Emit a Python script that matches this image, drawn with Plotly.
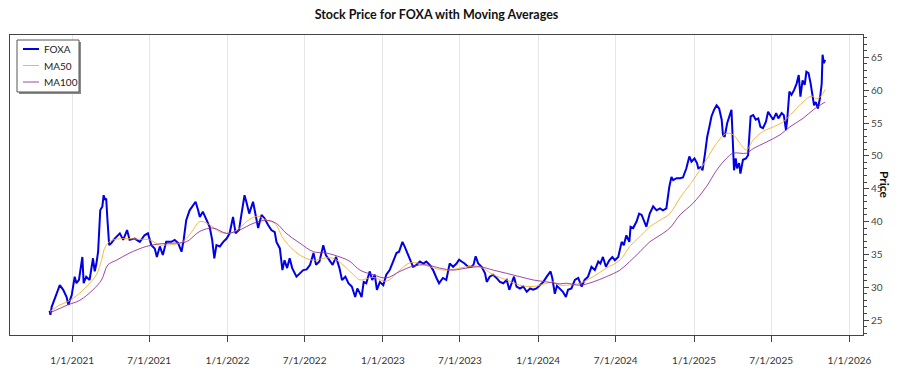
import plotly.graph_objects as go

# ---------------- data ----------------
price_dates = [
    "2020-11-09", "2020-11-11", "2020-11-14", "2020-11-22", "2020-11-29", "2020-12-03", "2020-12-11",
    "2020-12-19", "2020-12-23", "2020-12-31", "2021-01-07", "2021-01-11", "2021-01-17", "2021-01-25",
    "2021-01-28", "2021-02-03", "2021-02-11", "2021-02-19", "2021-02-23", "2021-02-27", "2021-03-03",
    "2021-03-05", "2021-03-08", "2021-03-13", "2021-03-16", "2021-03-19", "2021-03-22", "2021-03-25",
    "2021-03-29", "2021-04-03", "2021-04-11", "2021-04-23", "2021-05-01", "2021-05-10", "2021-05-16",
    "2021-05-28", "2021-06-09", "2021-06-20", "2021-06-28", "2021-07-06", "2021-07-14", "2021-07-19",
    "2021-07-26", "2021-08-02", "2021-08-10", "2021-08-22", "2021-08-30", "2021-09-07", "2021-09-15",
    "2021-09-20", "2021-09-26", "2021-10-04", "2021-10-12", "2021-10-18", "2021-10-24", "2021-10-28",
    "2021-11-04", "2021-11-12", "2021-11-20", "2021-11-26", "2021-12-01", "2021-12-06", "2021-12-14",
    "2021-12-22", "2021-12-30", "2022-01-06", "2022-01-14", "2022-01-20", "2022-01-28", "2022-02-03",
    "2022-02-10", "2022-02-15", "2022-02-21", "2022-03-02", "2022-03-08", "2022-03-14", "2022-03-22",
    "2022-03-29", "2022-04-06", "2022-04-14", "2022-04-22", "2022-04-26", "2022-05-04", "2022-05-10",
    "2022-05-15", "2022-05-21", "2022-05-27", "2022-06-02", "2022-06-12", "2022-06-20", "2022-06-28",
    "2022-07-06", "2022-07-14", "2022-07-22", "2022-07-28", "2022-08-05", "2022-08-14", "2022-08-20",
    "2022-08-28", "2022-09-05", "2022-09-13", "2022-09-21", "2022-09-27", "2022-10-05", "2022-10-12",
    "2022-10-20", "2022-10-28", "2022-11-02", "2022-11-08", "2022-11-12", "2022-11-17", "2022-11-23",
    "2022-12-01", "2022-12-07", "2022-12-13", "2022-12-18", "2022-12-25", "2023-01-02", "2023-01-09",
    "2023-01-17", "2023-01-25", "2023-02-02", "2023-02-08", "2023-02-16", "2023-02-21", "2023-03-01",
    "2023-03-07", "2023-03-13", "2023-03-21", "2023-03-29", "2023-04-06", "2023-04-13", "2023-04-21",
    "2023-04-29", "2023-05-07", "2023-05-13", "2023-05-22", "2023-05-30", "2023-06-07", "2023-06-15",
    "2023-06-23", "2023-06-29", "2023-07-05", "2023-07-12", "2023-07-20", "2023-07-28", "2023-08-02",
    "2023-08-07", "2023-08-13", "2023-08-21", "2023-08-29", "2023-09-02", "2023-09-09", "2023-09-17",
    "2023-09-25", "2023-10-03", "2023-10-11", "2023-10-19", "2023-10-25", "2023-10-31", "2023-11-05",
    "2023-11-11", "2023-11-19", "2023-11-27", "2023-12-05", "2023-12-13", "2023-12-20", "2023-12-28",
    "2024-01-05", "2024-01-13", "2024-01-21", "2024-01-30", "2024-02-03", "2024-02-09", "2024-02-14",
    "2024-02-21", "2024-02-28", "2024-03-06", "2024-03-11", "2024-03-19", "2024-03-27", "2024-04-04",
    "2024-04-12", "2024-04-19", "2024-04-27", "2024-05-05", "2024-05-13", "2024-05-21", "2024-05-26",
    "2024-06-01", "2024-06-08", "2024-06-16", "2024-06-23", "2024-06-29", "2024-07-07", "2024-07-15",
    "2024-07-20", "2024-07-26", "2024-08-02", "2024-08-05", "2024-08-11", "2024-08-19", "2024-08-25",
    "2024-08-31", "2024-09-05", "2024-09-11", "2024-09-19", "2024-09-27", "2024-10-05", "2024-10-13",
    "2024-10-20", "2024-10-28", "2024-11-04", "2024-11-09", "2024-11-13", "2024-11-21", "2024-11-29",
    "2024-12-06", "2024-12-14", "2024-12-21", "2024-12-26", "2025-01-02", "2025-01-08", "2025-01-11",
    "2025-01-17", "2025-01-21", "2025-01-27", "2025-02-01", "2025-02-06", "2025-02-11", "2025-02-17",
    "2025-02-23", "2025-03-01", "2025-03-07", "2025-03-10", "2025-03-14", "2025-03-20", "2025-03-26",
    "2025-03-30", "2025-04-02", "2025-04-05", "2025-04-09", "2025-04-12", "2025-04-17", "2025-04-20",
    "2025-04-26", "2025-05-03", "2025-05-08", "2025-05-14", "2025-05-20", "2025-05-26", "2025-06-01",
    "2025-06-06", "2025-06-12", "2025-06-19", "2025-06-24", "2025-06-30", "2025-07-06", "2025-07-13",
    "2025-07-18", "2025-07-26", "2025-07-31", "2025-08-05", "2025-08-08", "2025-08-13", "2025-08-18",
    "2025-08-24", "2025-08-30", "2025-09-04", "2025-09-08", "2025-09-13", "2025-09-18", "2025-09-22",
    "2025-09-27", "2025-10-02", "2025-10-06", "2025-10-10", "2025-10-14", "2025-10-19", "2025-10-24",
    "2025-10-28", "2025-10-30", "2025-11-02", "2025-11-05",
]
price_values = [
    26.4, 25.8, 27.0, 28.5, 29.6, 30.3, 29.6,
    28.5, 27.3, 28.8, 31.6, 30.6, 31.1, 34.6,
    30.6, 31.6, 31.1, 34.4, 32.4, 33.6, 35.4,
    38.7, 41.7, 42.3, 44.0, 43.3, 43.5, 40.2,
    36.4, 36.7, 37.4, 38.2, 37.2, 38.7, 37.2,
    37.4, 36.9, 37.9, 38.2, 36.4, 35.9, 34.6,
    36.2, 34.9, 36.9, 36.9, 37.2, 36.7, 35.4,
    37.2, 40.2, 41.7, 42.5, 43.0, 41.7, 40.7,
    41.5, 40.2, 39.2, 37.2, 34.4, 36.4, 36.2,
    36.9, 37.4, 38.2, 40.7, 38.2, 38.7, 41.2,
    44.0, 42.8, 41.2, 43.0, 40.7, 39.0, 41.0,
    40.5, 39.5, 38.7, 38.4, 36.9, 35.9, 32.6,
    34.1, 32.9, 34.4, 32.9, 31.6, 32.1, 32.6,
    32.7, 33.4, 35.2, 33.4, 33.9, 36.4, 34.9,
    34.1, 33.4, 34.6, 32.9, 31.1, 31.6, 30.6,
    30.1, 28.5, 29.8, 29.1, 28.5, 30.8, 30.6,
    32.4, 31.1, 31.9, 29.6, 30.8, 30.3, 31.9,
    32.6, 33.9, 35.2, 35.4, 36.9, 36.2, 34.9,
    34.1, 33.1, 33.4, 33.9, 33.6, 33.9, 33.4,
    32.6, 31.4, 30.6, 31.4, 31.1, 33.6, 33.1,
    33.6, 34.2, 33.9, 33.6, 33.1, 33.1, 33.4,
    34.7, 33.6, 33.1, 32.1, 30.8, 31.6, 31.9,
    31.4, 30.8, 30.6, 31.1, 29.6, 30.6, 31.6,
    30.1, 29.8, 30.1, 29.3, 29.8, 29.6, 29.8,
    30.3, 30.8, 31.6, 32.4, 31.4, 29.0, 30.2,
    29.8, 29.3, 28.5, 29.6, 29.8, 31.1, 31.4,
    30.1, 31.1, 31.6, 33.1, 32.6, 33.9, 33.6,
    34.6, 33.1, 34.1, 34.6, 34.1, 34.6, 36.9,
    36.4, 37.9, 36.9, 39.2, 39.0, 40.0, 41.2,
    41.0, 40.2, 39.2, 41.2, 42.3, 41.7, 42.0,
    41.7, 42.0, 45.3, 46.8, 46.3, 46.6, 46.6,
    46.7, 48.1, 49.9, 49.1, 49.6, 48.9, 48.1,
    48.3, 47.8, 50.4, 52.9, 54.4, 56.0, 57.0,
    57.7, 57.2, 55.5, 53.2, 52.9, 55.0, 56.2,
    57.0, 52.4, 47.8, 49.6, 48.1, 48.9, 47.3,
    49.4, 49.6, 50.1, 56.0, 56.2, 55.5, 55.7,
    54.4, 54.2, 55.2, 56.7, 56.0, 55.5, 56.5,
    55.7, 56.5, 56.2, 53.9, 55.5, 59.8, 59.3,
    60.0, 61.0, 62.3, 59.0, 61.5, 60.8, 62.8,
    62.6, 61.0, 59.3, 57.7, 58.2, 57.2, 58.8,
    61.0, 65.4, 64.1, 64.6,
]

ma50_dates = [
    "2020-11-10", "2020-12-03", "2020-12-22", "2021-01-19", "2021-02-11", "2021-02-27", "2021-03-11",
    "2021-03-18", "2021-03-26", "2021-04-07", "2021-05-01", "2021-06-09", "2021-07-02", "2021-07-26",
    "2021-08-08", "2021-09-11", "2021-09-26", "2021-10-12", "2021-10-28", "2021-11-20", "2021-12-14",
    "2022-01-06", "2022-01-29", "2022-02-21", "2022-03-14", "2022-04-02", "2022-04-22", "2022-05-12",
    "2022-06-04", "2022-06-28", "2022-07-22", "2022-08-14", "2022-09-06", "2022-09-29", "2022-10-24",
    "2022-11-08", "2022-12-09", "2023-01-09", "2023-02-10", "2023-03-05", "2023-03-29", "2023-04-21",
    "2023-05-22", "2023-06-15", "2023-07-16", "2023-08-17", "2023-09-17", "2023-10-19", "2023-11-19",
    "2023-12-20", "2024-01-21", "2024-02-05", "2024-02-21", "2024-03-07", "2024-04-08", "2024-05-09",
    "2024-06-09", "2024-07-11", "2024-08-03", "2024-08-27", "2024-09-19", "2024-10-13", "2024-11-05",
    "2024-11-29", "2024-12-22", "2024-12-30", "2025-01-30", "2025-02-23", "2025-03-18", "2025-04-03",
    "2025-04-19", "2025-05-04", "2025-05-20", "2025-06-12", "2025-07-06", "2025-07-30", "2025-08-22",
    "2025-09-14", "2025-10-04", "2025-10-16", "2025-10-28", "2025-11-05",
]
ma50_values = [
    26.3, 27.3, 27.8, 29.1, 30.6, 31.9, 34.1,
    35.9, 36.7, 37.2, 37.4, 37.3, 37.2, 36.4,
    36.4, 36.7, 37.4, 38.7, 40.0, 39.5, 38.4,
    38.2, 39.0, 40.3, 40.8, 40.2, 39.7, 37.4,
    35.7, 34.6, 34.1, 34.4, 34.4, 33.4, 31.9,
    31.1, 31.5, 30.9, 32.6, 33.7, 33.6, 33.1,
    32.6, 32.7, 33.1, 33.1, 31.9, 31.1, 30.3,
    30.1, 30.6, 30.8, 30.3, 30.3, 30.6, 31.6,
    32.9, 34.1, 36.2, 37.7, 39.2, 40.2, 41.2,
    43.6, 45.6, 46.3, 49.4, 51.9, 53.4, 53.2,
    51.9, 50.9, 52.4, 53.7, 54.4, 55.2, 56.7,
    58.2, 59.1, 58.7, 59.2, 60.1,
]

ma100_dates = [
    "2020-11-10", "2020-12-22", "2021-01-19", "2021-02-19", "2021-03-11", "2021-03-26", "2021-04-15",
    "2021-05-16", "2021-06-24", "2021-07-26", "2021-08-26", "2021-09-26", "2021-10-28", "2021-11-28",
    "2021-12-30", "2022-01-29", "2022-03-02", "2022-04-02", "2022-04-26", "2022-05-19", "2022-06-20",
    "2022-07-22", "2022-08-21", "2022-09-22", "2022-10-16", "2022-11-08", "2022-12-09", "2023-01-09",
    "2023-02-10", "2023-03-13", "2023-04-13", "2023-05-15", "2023-06-15", "2023-07-16", "2023-08-17",
    "2023-09-17", "2023-10-19", "2023-11-19", "2023-12-20", "2024-01-21", "2024-02-21", "2024-03-07",
    "2024-04-08", "2024-05-09", "2024-06-09", "2024-07-11", "2024-08-03", "2024-08-27", "2024-09-19",
    "2024-10-13", "2024-11-05", "2024-11-29", "2024-12-30", "2025-01-30", "2025-02-23", "2025-03-18",
    "2025-04-03", "2025-05-04", "2025-05-20", "2025-06-20", "2025-07-22", "2025-08-14", "2025-09-14",
    "2025-10-08", "2025-11-05",
]
ma100_values = [
    26.1, 27.3, 28.0, 29.6, 31.1, 33.4, 34.1,
    35.2, 36.2, 36.6, 36.7, 36.9, 38.5, 39.0,
    38.2, 38.7, 39.7, 40.2, 39.7, 38.2, 36.7,
    35.4, 35.2, 34.6, 33.9, 32.6, 31.9, 31.4,
    32.4, 33.2, 33.4, 32.9, 32.6, 32.9, 33.1,
    32.6, 32.1, 31.6, 31.1, 30.8, 30.5, 30.6,
    30.3, 30.8, 31.6, 32.6, 33.9, 35.4, 36.9,
    37.9, 39.0, 41.0, 42.8, 45.3, 47.8, 49.6,
    50.4, 50.4, 51.1, 52.1, 53.2, 54.4, 55.7,
    57.0, 58.2,
]

series_names = ["FOXA", "MA50", "MA100"]
series_colors = ["#0000e6", "rgba(245,170,40,0.85)", "rgba(140,40,150,0.85)"]

x_tick_values = ["2021-01-01", "2021-07-01", "2022-01-01", "2022-07-01", "2023-01-01", "2023-07-01",
                 "2024-01-01", "2024-07-01", "2025-01-01", "2025-07-01", "2026-01-01"]
x_tick_labels = ["1/1/2021", "7/1/2021", "1/1/2022", "7/1/2022", "1/1/2023", "7/1/2023",
                 "1/1/2024", "7/1/2024", "1/1/2025", "7/1/2025", "1/1/2026"]
y_tick_values = [25, 30, 35, 40, 45, 50, 55, 60, 65]

FONT = "Segoe UI, Lato, Noto Sans, sans-serif"

fig = go.Figure()
fig.add_trace(go.Scatter(x=price_dates, y=price_values, name=series_names[0], mode="lines",
                         line=dict(color=series_colors[0], width=2), showlegend=False))
fig.add_trace(go.Scatter(x=ma50_dates, y=ma50_values, name=series_names[1], mode="lines",
                         line=dict(color=series_colors[1], width=1, shape="spline"), showlegend=False))
fig.add_trace(go.Scatter(x=ma100_dates, y=ma100_values, name=series_names[2], mode="lines",
                         line=dict(color=series_colors[2], width=1, shape="spline"), showlegend=False))

# ---- legend box drawn in pixels relative to the plot's top-left corner ----
shapes = []
box_x0, box_x1, box_y0, box_y1 = 7, 69, -5, -57
shapes.append(dict(type="rect", xref="paper", yref="paper", xanchor=0, yanchor=1,
                   xsizemode="pixel", ysizemode="pixel",
                   x0=box_x0 + 2, x1=box_x1 + 2, y0=box_y0 - 2, y1=box_y1 - 2,
                   fillcolor="#8a8a8a", line=dict(width=0), layer="above"))
shapes.append(dict(type="rect", xref="paper", yref="paper", xanchor=0, yanchor=1,
                   xsizemode="pixel", ysizemode="pixel",
                   x0=box_x0, x1=box_x1, y0=box_y0, y1=box_y1,
                   fillcolor="white", line=dict(color="#555555", width=1), layer="above"))
annotations = []
for i, (name, col) in enumerate(zip(series_names, series_colors)):
    yy = -14 - i * 16.5
    shapes.append(dict(type="line", xref="paper", yref="paper", xanchor=0, yanchor=1,
                       xsizemode="pixel", ysizemode="pixel",
                       x0=13, x1=29, y0=yy, y1=yy,
                       line=dict(color=col, width=2 if i == 0 else 1), layer="above"))
    annotations.append(dict(text=name, xref="paper", yref="paper", x=0, y=1, xshift=32, yshift=yy,
                            xanchor="left", yanchor="middle", showarrow=False,
                            font=dict(family=FONT, size=10, color="#222222")))

annotations.append(dict(text="<b>Price</b>", xref="paper", yref="paper", x=1.0, xshift=22, y=0.5,
                        xanchor="center", yanchor="middle", textangle=90, showarrow=False,
                        font=dict(family=FONT, size=12, color="#111111")))

fig.update_layout(
    width=900, height=375,
    margin=dict(l=10, r=37, t=35, b=40, autoexpand=False),
    paper_bgcolor="white", plot_bgcolor="white",
    font=dict(family=FONT, size=10, color="#333333"),
    title=dict(text="<b>Stock Price for FOXA with Moving Averages</b>", x=0.485, xanchor="center",
               y=0.96, yanchor="middle", font=dict(family=FONT, size=12.5, color="#111111")),
    showlegend=False,
    xaxis=dict(type="date", range=["2020-08-08", "2026-02-02"], tickmode="array",
               tickvals=x_tick_values, ticktext=x_tick_labels, ticks="outside", ticklen=6,
               tickcolor="#444444", showgrid=True, gridcolor="#e6e6e6", gridwidth=1,
               showline=True, linecolor="#444444", linewidth=1, mirror=True, zeroline=False,
               automargin=False, ticklabelstandoff=10,
               tickfont=dict(family=FONT, size=10, color="#333333")),
    yaxis=dict(side="right", range=[22.716, 68.40], tickmode="array", tickvals=y_tick_values,
               ticks="outside", ticklen=5, tickcolor="#444444", showgrid=False, zeroline=False,
               showline=True, linecolor="#444444", linewidth=1, mirror=True, automargin=False,
               minor=dict(dtick=1, ticks="outside", ticklen=3, tickcolor="#444444", showgrid=False),
               tickfont=dict(family=FONT, size=10, color="#444444")),
    shapes=shapes,
    annotations=annotations,
)

# remove the browser's default 8px page margin so the figure sits at the window's corner
fig.write_html("out.html", config={"displayModeBar": False},
               post_script="document.body.style.margin='0';document.body.style.overflow='hidden';")
